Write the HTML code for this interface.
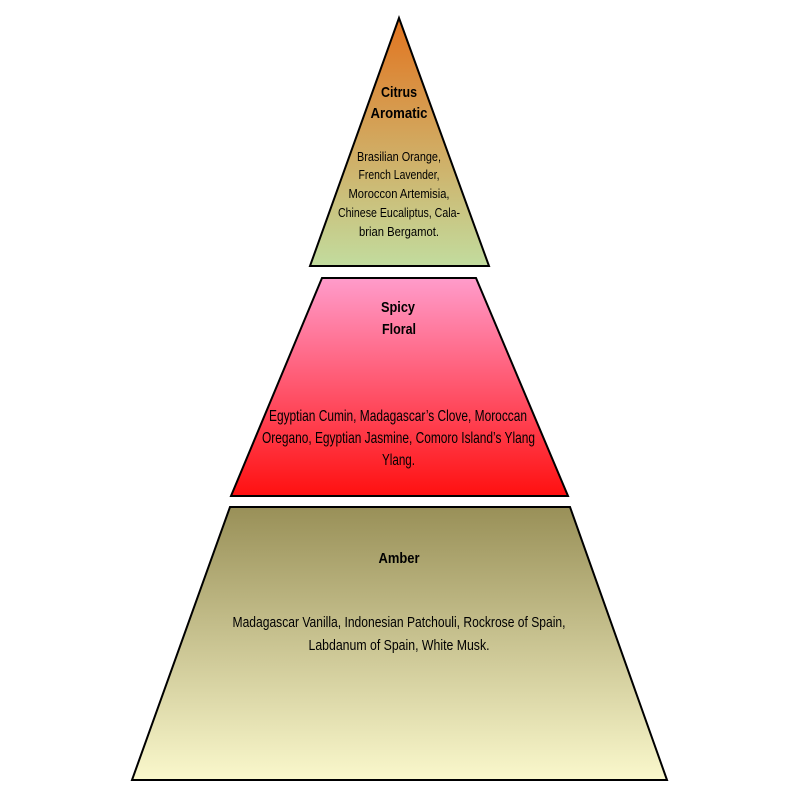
<!DOCTYPE html>
<html><head><meta charset="utf-8"><style>body{margin:0;background:#fff}svg text{font-family:"Liberation Sans Narrow","Liberation Sans",sans-serif;fill:#000}</style></head>
<body>
<svg width="800" height="800" viewBox="0 0 800 800" xmlns="http://www.w3.org/2000/svg">
<defs>
<linearGradient id="g1" x1="0" y1="0" x2="0" y2="1"><stop offset="0" stop-color="#e2741f"/><stop offset="1" stop-color="#c2dc9e"/></linearGradient>
<linearGradient id="g2" x1="0" y1="0" x2="0" y2="1"><stop offset="0" stop-color="#ff9ccb"/><stop offset="1" stop-color="#ff1010"/></linearGradient>
<linearGradient id="g3" x1="0" y1="0" x2="0" y2="1"><stop offset="0" stop-color="#999058"/><stop offset="1" stop-color="#faf8cc"/></linearGradient>
</defs>
<polygon points="399,18 489,266 310,266" fill="url(#g1)" stroke="#000" stroke-width="2"/>
<polygon points="322,278 476,278 568,496 231,496" fill="url(#g2)" stroke="#000" stroke-width="2"/>
<polygon points="230,507 570,507 667,780 132,780" fill="url(#g3)" stroke="#000" stroke-width="2"/>
<g text-anchor="middle" font-size="13">
<text x="399" y="97" font-weight="bold" font-size="15" textLength="36" lengthAdjust="spacingAndGlyphs">Citrus</text>
<text x="399" y="118" font-weight="bold" font-size="15" textLength="57" lengthAdjust="spacingAndGlyphs">Aromatic</text>
<text x="399" y="161" textLength="84" lengthAdjust="spacingAndGlyphs">Brasilian Orange,</text>
<text x="399" y="179" textLength="81" lengthAdjust="spacingAndGlyphs">French Lavender,</text>
<text x="399" y="198" textLength="101" lengthAdjust="spacingAndGlyphs">Moroccon Artemisia,</text>
<text x="399" y="217" textLength="122" lengthAdjust="spacingAndGlyphs">Chinese Eucaliptus, Cala-</text>
<text x="399" y="236" textLength="80" lengthAdjust="spacingAndGlyphs">brian Bergamot.</text>
<text x="398" y="312" font-weight="bold" font-size="15" textLength="34" lengthAdjust="spacingAndGlyphs">Spicy</text>
<text x="399" y="334" font-weight="bold" font-size="15" textLength="34" lengthAdjust="spacingAndGlyphs">Floral</text>
<text x="398" y="421" font-size="16" textLength="258" lengthAdjust="spacingAndGlyphs">Egyptian Cumin, Madagascar’s Clove, Moroccan</text>
<text x="398.5" y="443" font-size="16" textLength="273" lengthAdjust="spacingAndGlyphs">Oregano, Egyptian Jasmine, Comoro Island’s Ylang</text>
<text x="398.5" y="465" font-size="16" textLength="33" lengthAdjust="spacingAndGlyphs">Ylang.</text>
<text x="399" y="563" font-weight="bold" font-size="15" textLength="41" lengthAdjust="spacingAndGlyphs">Amber</text>
<text x="399" y="627" font-size="15" textLength="333" lengthAdjust="spacingAndGlyphs">Madagascar Vanilla, Indonesian Patchouli, Rockrose of Spain,</text>
<text x="399" y="650" font-size="15" textLength="181" lengthAdjust="spacingAndGlyphs">Labdanum of Spain, White Musk.</text>
</g>
</svg>
</body></html>
